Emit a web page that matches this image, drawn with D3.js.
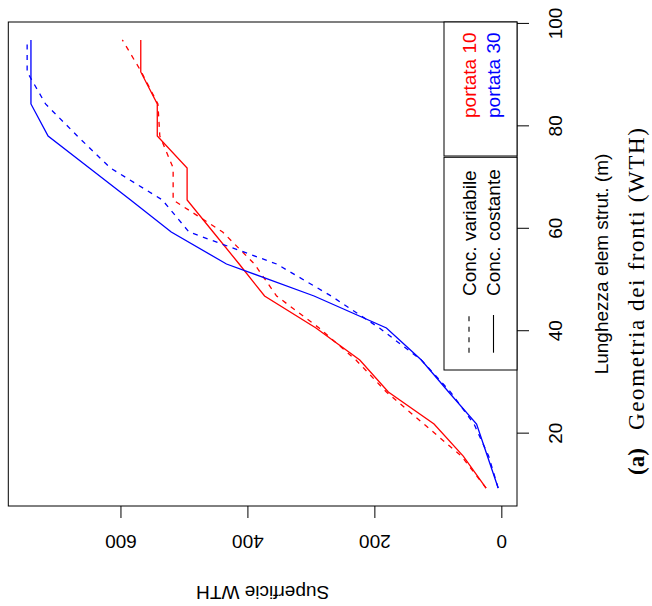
<!DOCTYPE html>
<html><head><meta charset="utf-8">
<script src="https://cdn.jsdelivr.net/npm/d3@7"></script>
<style>body{margin:0;background:#fff} svg{display:block}</style>
</head><body>
<svg id="c" width="652" height="606"></svg>
<script>
// Data
const lunghezza = [9.375, 15.625, 21.875, 28.125, 34.375, 40.625, 46.875, 53.125, 59.375, 65.625, 71.875, 78.125, 84.375, 90.625, 96.875];
const portata10Costante  = [24, 60, 106, 178, 223, 292, 373, 413, 454, 495, 495, 542, 542, 568, 568];
const portata10Variabile = [24, 63, 122, 181, 229, 287, 354, 389, 439, 517, 517, 538, 541, 567, 597];
const portata30Costante  = [5, 22, 39, 83, 126, 181, 295, 433, 520, 584, 649, 714, 741, 741, 741];
const portata30Variabile = [5, 20, 43, 80, 126, 192, 268, 354, 492, 534, 616, 668, 718, 747, 747];
const xTicks = [20, 40, 60, 80, 100];
const yTicks = [0, 200, 400, 600];
const legendPortata = ["portata 10", "portata 30"];
const legendPortataColors = ["#ff0000", "#0000ff"];
const legendConc = ["Conc. variabile", "Conc. costante"];
const xLabel = "Lunghezza elem strut. (m)";
const yLabel = "Superficie WTH";
const captionTag = "(a)";
const captionText = "Geometria dei fronti (WTH)";

const series = [
  {values: portata10Variabile, color: "#ff0000", dashed: true},
  {values: portata10Costante,  color: "#ff0000", dashed: false},
  {values: portata30Variabile, color: "#0000ff", dashed: true},
  {values: portata30Costante,  color: "#0000ff", dashed: false}
];

const FONT = "'Liberation Sans', Arial, Helvetica, sans-serif";
const FS = 19;
const DASH = "5,5.5";

const svg = d3.select("#c");
// whole R figure is drawn unrotated, then turned 90° counter-clockwise
const g = svg.append("g").attr("transform", "translate(0,606) rotate(-90)");

const plot = {left: 100, right: 584, top: 8.3, bottom: 517};

const xExt = d3.extent(lunghezza), xPad = 0.04 * (xExt[1] - xExt[0]);
const x = d3.scaleLinear().domain([xExt[0] - xPad, xExt[1] + xPad]).range([plot.left, plot.right]);
const allY = series.flatMap(s => s.values);
const yExt = d3.extent(allY), yPad = 0.04 * (yExt[1] - yExt[0]);
const y = d3.scaleLinear().domain([yExt[0] - yPad, yExt[1] + yPad]).range([plot.bottom, plot.top]);

// lines
const line = d3.line().x((d, i) => x(lunghezza[i])).y(d => y(d));
g.append("g").selectAll("path").data(series).join("path")
  .attr("d", d => line(d.values))
  .attr("fill", "none")
  .attr("stroke", d => d.color)
  .attr("stroke-width", 1.3)
  .attr("stroke-dasharray", d => d.dashed ? DASH : null);

// box
g.append("rect").attr("x", plot.left).attr("y", plot.top)
  .attr("width", plot.right - plot.left).attr("height", plot.bottom - plot.top)
  .attr("fill", "none").attr("stroke", "#000").attr("stroke-width", 1);

// x axis (R bottom)
const ax = g.append("g").attr("transform", `translate(0,${plot.bottom})`)
  .call(d3.axisBottom(x).tickValues(xTicks).tickSize(12).tickSizeOuter(0).tickFormat(d3.format("d")));
ax.select(".domain").remove();
ax.selectAll("line").attr("stroke", "#000");
ax.selectAll("text").attr("y", 45).attr("dy", 0)
  .attr("fill", "#000").style("font-family", FONT).style("font-size", FS + "px");

// y axis (R left)
const ay = g.append("g").attr("transform", `translate(${plot.left},0)`)
  .call(d3.axisLeft(y).tickValues(yTicks).tickSize(12).tickSizeOuter(0).tickFormat(d3.format("d")));
ay.select(".domain").remove();
ay.selectAll("line").attr("stroke", "#000");
ay.selectAll("text").attr("x", 0).attr("dy", 0).attr("text-anchor", "middle")
  .attr("transform", "translate(-29,0) rotate(-90)")
  .attr("fill", "#000").style("font-family", FONT).style("font-size", FS + "px");

// axis titles
g.append("text").attr("x", (plot.left + plot.right) / 2).attr("y", 608)
  .attr("text-anchor", "middle").style("font-family", FONT).style("font-size", FS + "px")
  .text(xLabel);
g.append("text").attr("transform", `translate(20,${(plot.top + plot.bottom) / 2}) rotate(-90)`)
  .attr("text-anchor", "middle").style("font-family", FONT).style("font-size", FS + "px")
  .text(yLabel);

// legends
const rows = [469, 493.5];
const leg1 = g.append("g");
leg1.append("rect").attr("x", 450).attr("y", 444).attr("width", 134).attr("height", plot.bottom - 444)
  .attr("fill", "#fff").attr("stroke", "#000");
leg1.selectAll("text").data(legendPortata).join("text")
  .attr("x", 488).attr("y", (d, i) => rows[i]).attr("dy", "0.35em")
  .attr("fill", (d, i) => legendPortataColors[i])
  .style("font-family", FONT).style("font-size", FS + "px").text(d => d);

const leg2 = g.append("g");
leg2.append("rect").attr("x", 236).attr("y", 444).attr("width", 212.7).attr("height", plot.bottom - 444)
  .attr("fill", "#fff").attr("stroke", "#000");
leg2.selectAll("line").data(legendConc).join("line")
  .attr("x1", 253.3).attr("x2", 291).attr("y1", (d, i) => rows[i]).attr("y2", (d, i) => rows[i])
  .attr("stroke", "#000").attr("stroke-width", 1.1)
  .attr("stroke-dasharray", (d, i) => i === 0 ? DASH : null);
leg2.selectAll("text").data(legendConc).join("text")
  .attr("x", 310).attr("y", (d, i) => rows[i]).attr("dy", "0.35em")
  .style("font-family", FONT).style("font-size", FS + "px").text(d => d);

// caption
const SERIF = "'Liberation Serif', 'Times New Roman', serif";
g.append("text").attr("x", 131).attr("y", 644)
  .style("font-family", SERIF).style("font-size", "23px").style("font-weight", "bold").text(captionTag);
g.append("text").attr("x", 176).attr("y", 644)
  .attr("textLength", 302).attr("lengthAdjust", "spacing")
  .style("font-family", SERIF).style("font-size", "23px").text(captionText);
</script>
</body></html>
